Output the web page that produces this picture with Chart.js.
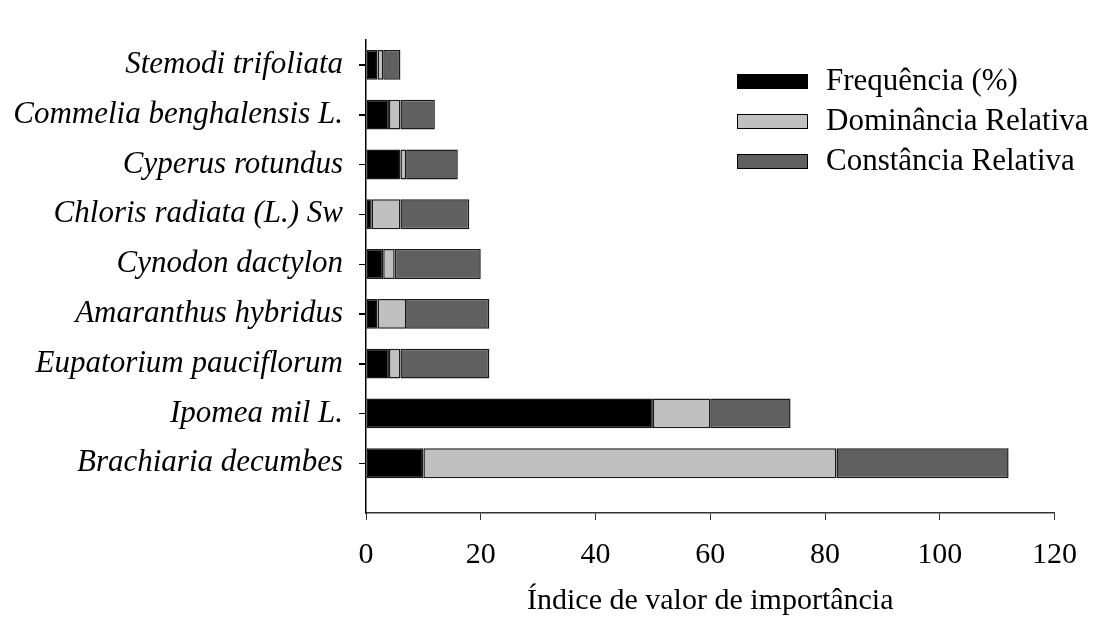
<!DOCTYPE html>
<html lang="pt">
<head>
  <meta charset="UTF-8" />
  <title>Índice de valor de importância</title>
  <script src="https://cdn.jsdelivr.net/npm/chart.js@4.4.0/dist/chart.umd.min.js"></script>
  <style>
    html, body { margin: 0; padding: 0; background: #fff; }
    #wrap { position: relative; width: 1094px; height: 619px; }
  </style>
</head>
<body>
  <div id="wrap"><canvas id="chart"></canvas></div>
  <script>
    // species, top to bottom as in the figure
    const species = [
      'Stemodi trifoliata',
      'Commelia benghalensis L.',
      'Cyperus rotundus',
      'Chloris radiata (L.) Sw',
      'Cynodon dactylon',
      'Amaranthus hybridus',
      'Eupatorium pauciflorum',
      'Ipomea mil L.',
      'Brachiaria decumbes'
    ];
    const frequencia = [2, 4, 6, 1, 3, 2, 4, 50, 10];
    const dominancia = [1, 2, 1, 5, 2, 5, 2, 10, 72];
    const constancia = [3, 6, 9, 12, 15, 14.5, 15.5, 14, 30];
    const xTicks = [0, 20, 40, 60, 80, 100, 120];

    const serif = 'Liberation Serif, "Times New Roman", serif';

    function rows(values) {
      return values.map((v, i) => ({ x: v, y: i }));
    }

    // legend inside the plot (top right) + the small marks on the species axis
    const extras = {
      id: 'extras',
      afterDraw(chart) {
        const ctx = chart.ctx;
        const y = chart.scales.y;
        ctx.save();
        ctx.strokeStyle = '#000';
        ctx.lineWidth = 1;
        species.forEach((_, i) => {
          const py = Math.round(y.getPixelForValue(i)) + 0.5;
          ctx.beginPath();
          ctx.moveTo(y.right - 7, py);
          ctx.lineTo(y.right, py);
          ctx.stroke();
        });

        ctx.font = '31px ' + serif;
        ctx.textBaseline = 'middle';
        chart.data.datasets.forEach((ds, i) => {
          const cy = 81 + i * 40;
          ctx.fillStyle = ds.backgroundColor;
          ctx.fillRect(737, cy - 7, 70, 14);
          ctx.strokeStyle = '#000';
          ctx.strokeRect(737.5, cy - 6.5, 70, 14);
          ctx.fillStyle = '#000';
          ctx.fillText(ds.label, 826, cy + 1);
        });
        ctx.restore();
      }
    };

    new Chart(document.getElementById('chart'), {
      type: 'bar',
      data: {
        datasets: [
          { label: 'Frequência (%)', data: rows(frequencia), backgroundColor: '#000000' },
          { label: 'Dominância Relativa', data: rows(dominancia), backgroundColor: '#c0c0c0' },
          { label: 'Constância Relativa', data: rows(constancia), backgroundColor: '#606060' }
        ]
      },
      options: {
        indexAxis: 'y',
        responsive: true,
        maintainAspectRatio: false,
        animation: false,
        layout: { padding: { top: 40, right: 36, left: 0, bottom: 0 } },
        datasets: {
          bar: {
            borderColor: '#1a1a1a',
            borderWidth: 1.5,
            borderSkipped: false,
            barPercentage: 0.6,
            categoryPercentage: 1
          }
        },
        plugins: {
          legend: { display: false },
          tooltip: { enabled: false }
        },
        scales: {
          x: {
            type: 'linear',
            stacked: true,
            min: 0,
            max: 120,
            afterBuildTicks: s => { s.ticks = xTicks.map(v => ({ value: v })); },
            afterFit: s => { s.height = 619 - 513; },
            border: { display: true, color: '#333', width: 1.5 },
            grid: { drawOnChartArea: false, drawTicks: true, tickLength: 7, color: '#333', lineWidth: 1 },
            ticks: { color: '#000', font: { family: serif, size: 30 }, padding: 17, maxRotation: 0 },
            title: {
              display: true,
              text: 'Índice de valor de importância',
              color: '#000',
              font: { family: serif, size: 30 },
              padding: { top: 4, bottom: 0 }
            }
          },
          y: {
            type: 'linear',
            stacked: true,
            reverse: true,
            offset: false,
            min: -0.5,
            max: 9,
            afterBuildTicks: s => { s.ticks = species.map((_, i) => ({ value: i })); },
            afterFit: s => { s.width = 366; },
            border: { display: true, color: '#000', width: 1.5 },
            grid: { offset: false, drawOnChartArea: false, drawTicks: true, tickLength: 7, color: '#000', lineWidth: 1 },
            ticks: {
              color: '#000',
              font: { family: serif, size: 31, style: 'italic' },
              padding: 16,
              callback: v => species[v]
            }
          }
        }
      },
      plugins: [extras]
    });
  </script>
</body>
</html>
